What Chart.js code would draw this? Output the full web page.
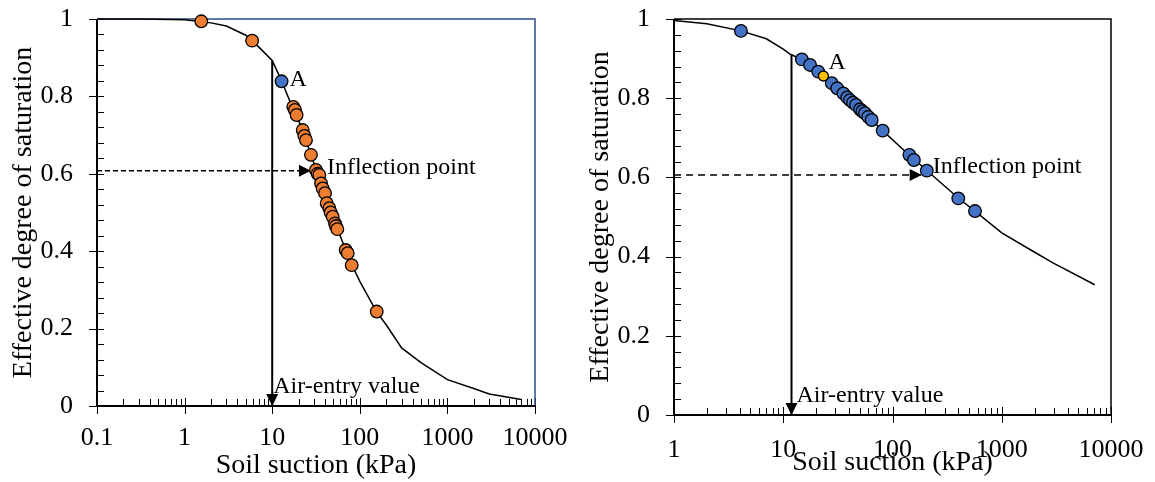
<!DOCTYPE html>
<html>
<head>
<meta charset="utf-8">
<script src="https://cdn.jsdelivr.net/npm/chart.js@4.4.1/dist/chart.umd.min.js"></script>
<style>
  html, body { margin: 0; padding: 0; background: #fff; }
  #wrap { position: relative; width: 1155px; height: 482px; }
  canvas { position: absolute; top: 0; }
  #chartA { left: 0; }
  #chartB { left: 577px; }
</style>
</head>
<body>
<div id="wrap">
  <canvas id="chartA" width="577" height="482"></canvas>
  <canvas id="chartB" width="578" height="482"></canvas>
</div>
<script>
// ---- (a) fitted SWCC and measured points ----
const curveSuctionA = [0.1, 0.3, 1, 2, 3, 5, 7, 10, 12.8, 16, 20, 24, 28, 31.6, 36, 40, 45, 50, 55, 70, 81, 100, 155, 200, 300, 500, 1000, 2000, 3000, 7000];
const curveSatA = [1.0, 1.0, 0.998, 0.990, 0.982, 0.958, 0.928, 0.893, 0.840, 0.786, 0.738, 0.690, 0.648, 0.610, 0.575, 0.548, 0.515, 0.487, 0.460, 0.400, 0.365, 0.322, 0.244, 0.210, 0.150, 0.112, 0.068, 0.045, 0.031, 0.017];
const suctionA = [1.55, 5.9, 17.4, 18.2, 19.0, 22.3, 23.3, 24.3, 27.7, 31.6, 33.0, 34.5, 36.1, 37.7, 40.1, 41.9, 44.9, 46.5, 49.0, 52.1, 53.5, 55.4, 69.0, 72.8, 80.8, 156];
const satA = [0.994, 0.944, 0.773, 0.765, 0.752, 0.713, 0.698, 0.687, 0.649, 0.610, 0.600, 0.597, 0.575, 0.562, 0.550, 0.524, 0.511, 0.500, 0.489, 0.472, 0.465, 0.457, 0.403, 0.395, 0.364, 0.244];
const pointSuctionA = [12.8];
const pointSatA = [0.839];
const airEntryA = [10, 0.893];      // suction, saturation at top of arrow
const inflectionA = [27.7, 0.608];  // arrow tip
const decadesA = [0.1, 1, 10, 100, 1000, 10000];

// ---- (b) fitted SWCC and measured points ----
const curveSuctionB = [1, 2, 4.1, 7, 10, 11.6, 14.8, 20, 30, 50, 80, 140, 205, 400, 560, 1000, 2000, 3000, 7100];
const curveSatB = [0.996, 0.988, 0.970, 0.950, 0.924, 0.911, 0.898, 0.870, 0.830, 0.775, 0.720, 0.658, 0.618, 0.548, 0.516, 0.460, 0.411, 0.383, 0.329];
const suctionB = [4.1, 14.8, 17.6, 20.9, 27.8, 31.2, 35.5, 38.5, 40.8, 43.5, 46.4, 50.4, 53, 56.0, 60, 64.5, 81.3, 142.6, 157, 206, 400, 569];
const satB = [0.970, 0.898, 0.884, 0.867, 0.838, 0.825, 0.812, 0.802, 0.795, 0.789, 0.783, 0.772, 0.767, 0.762, 0.753, 0.745, 0.718, 0.657, 0.644, 0.617, 0.547, 0.515];
const pointSuctionB = [23.3];
const pointSatB = [0.856];
const airEntryB = [11.9, 0.911];
const inflectionB = [185, 0.606];
const decadesB = [1, 10, 100, 1000, 10000];

const yTicks = [0, 0.2, 0.4, 0.6, 0.8, 1];

Chart.defaults.font.family = "'Liberation Serif', 'Times New Roman', serif";
Chart.defaults.font.size = 26;
Chart.defaults.color = '#000';

const toPts = (xs, ys) => xs.map((x, i) => ({ x: x, y: ys[i] }));
const isDecade = v => Math.abs(Math.log10(v) - Math.round(Math.log10(v))) < 1e-6;

// axis lines, frame and tick marks (majors cross the axis, minors point inward)
const axesFrame = {
  id: 'axesFrame',
  beforeDatasetsDraw(chart, args, opts) {
    const { ctx, chartArea: a, scales: { x, y } } = chart;
    ctx.save();
    ctx.strokeStyle = '#000';
    ctx.lineWidth = 1;
    x.ticks.forEach(t => {
      const v = t.value;
      const m = v / Math.pow(10, Math.floor(Math.log10(v) + 1e-9));
      if (Math.abs(m - Math.round(m)) > 1e-6) return;
      const px = Math.round(x.getPixelForValue(v)) + 0.5;
      ctx.beginPath();
      if (isDecade(v)) { ctx.moveTo(px, a.bottom - 8); ctx.lineTo(px, a.bottom + 8); }
      else { ctx.moveTo(px, a.bottom); ctx.lineTo(px, a.bottom - 7); }
      ctx.stroke();
    });
    for (let i = 0; i <= 25; i++) {
      const py = Math.round(y.getPixelForValue(i * 0.04)) + 0.5;
      ctx.beginPath();
      ctx.moveTo(i % 5 === 0 ? a.left - 8 : a.left, py);
      ctx.lineTo(a.left + 7, py);
      ctx.stroke();
    }
    ctx.strokeStyle = opts.frameColor;
    ctx.lineWidth = 1.5;
    ctx.beginPath();
    ctx.moveTo(a.left, a.top);
    ctx.lineTo(a.right, a.top);
    ctx.lineTo(a.right, a.bottom);
    ctx.stroke();
    ctx.strokeStyle = '#000';
    ctx.lineWidth = 2;
    ctx.beginPath();
    ctx.moveTo(a.left, a.top);
    ctx.lineTo(a.left, a.bottom);
    ctx.lineTo(a.right, a.bottom);
    ctx.stroke();
    ctx.restore();
  }
};

// filled arrowhead at the last point of datasets flagged with `arrow`
const arrowHeads = {
  id: 'arrowHeads',
  afterDatasetDraw(chart, args) {
    const ds = chart.data.datasets[args.index];
    if (!ds.arrow) return;
    const pts = args.meta.data;
    const tip = pts[pts.length - 1], prev = pts[pts.length - 2];
    const ang = Math.atan2(tip.y - prev.y, tip.x - prev.x);
    const ctx = chart.ctx;
    ctx.save();
    ctx.translate(tip.x, tip.y);
    ctx.rotate(ang);
    ctx.beginPath();
    ctx.moveTo(0, 0);
    ctx.lineTo(-12, -6);
    ctx.lineTo(-12, 6);
    ctx.closePath();
    ctx.fillStyle = '#000';
    ctx.fill();
    ctx.restore();
  }
};

// text annotations placed at data coordinates plus a pixel offset
const notes = {
  id: 'notes',
  afterDraw(chart, args, opts) {
    const { ctx, chartArea: a, scales: { x, y } } = chart;
    ctx.save();
    ctx.fillStyle = '#000';
    ctx.textBaseline = 'middle';
    opts.items.forEach(n => {
      ctx.font = n.size + "px 'Liberation Serif', serif";
      ctx.textAlign = n.align || 'left';
      const px = n.at ? x.getPixelForValue(n.at[0]) : a.right;
      const py = n.at ? y.getPixelForValue(n.at[1]) : a.top;
      ctx.fillText(n.text, px + n.dx, py + n.dy);
    });
    ctx.restore();
  }
};

// drop the label overflow padding so the plot area sits where layout.padding puts it
const noEdgePadding = s => { s.paddingTop = 0; s.paddingBottom = 0; s.paddingLeft = 0; s.paddingRight = 0; };

function makeChart(id, cfg) {
  const pointStyle = (color, r) => ({
    type: 'scatter', showLine: false, clip: false,
    backgroundColor: color, borderColor: '#000', borderWidth: 1.3,
    pointRadius: r, pointHoverRadius: r
  });
  return new Chart(document.getElementById(id), {
    type: 'scatter',
    data: {
      datasets: [
        Object.assign({ data: toPts(cfg.pointX, cfg.pointY) }, pointStyle(cfg.pointColor, cfg.pointR)),
        Object.assign({ data: toPts(cfg.dataX, cfg.dataY) }, pointStyle(cfg.dataColor, 6.3)),
        {
          data: toPts(cfg.curveX, cfg.curveY), showLine: true, pointRadius: 0,
          borderColor: '#000', borderWidth: 1.5, tension: 0, clip: false
        },
        {
          data: [{ x: cfg.airEntry[0], y: cfg.airEntry[1] }, { x: cfg.airEntry[0], y: 0 }],
          showLine: true, pointRadius: 0, borderColor: '#000', borderWidth: 2, arrow: true, clip: false
        },
        {
          data: [{ x: cfg.xMin, y: cfg.inflection[1] }, { x: cfg.inflection[0], y: cfg.inflection[1] }],
          showLine: true, pointRadius: 0, borderColor: '#000', borderWidth: 1.5,
          borderDash: cfg.dash, arrow: true, clip: false
        }
      ]
    },
    options: {
      responsive: false,
      animation: false,
      events: [],
      devicePixelRatio: 1,
      layout: { padding: { top: 19, right: cfg.padRight, bottom: 0, left: 0 } },
      plugins: {
        legend: { display: false },
        tooltip: { enabled: false },
        axesFrame: { frameColor: cfg.frameColor },
        notes: { items: cfg.notes }
      },
      scales: {
        x: {
          type: 'logarithmic',
          min: cfg.xMin,
          max: 10000,
          grid: { display: false, drawTicks: false },
          border: { display: false },
          ticks: {
            autoSkip: false, maxRotation: 0, padding: cfg.xTickPad,
            callback: v => cfg.decades.some(d => Math.abs(d - v) < d * 1e-6) ? String(Number(v.toPrecision(6))) : ''
          },
          title: { display: true, text: 'Soil suction (kPa)', font: { size: 28 }, padding: { top: 0, bottom: cfg.xTitlePad } },
          afterFit: s => { s.height = 482 - cfg.bottom; noEdgePadding(s); }
        },
        y: {
          min: 0,
          max: 1,
          grid: { display: false, drawTicks: false },
          border: { display: false },
          ticks: {
            stepSize: 0.2, padding: 24,
            callback: v => yTicks.some(t => Math.abs(t - v) < 1e-6) ? String(Number(v.toFixed(2))) : ''
          },
          title: { display: true, text: 'Effective degree of saturation', font: { size: 28 }, padding: { top: 7, bottom: 0 } },
          afterFit: s => { s.width = 97; noEdgePadding(s); }
        }
      }
    },
    plugins: [axesFrame, arrowHeads, notes]
  });
}

makeChart('chartA', {
  curveX: curveSuctionA, curveY: curveSatA,
  dataX: suctionA, dataY: satA, dataColor: '#ED7D31',
  pointX: pointSuctionA, pointY: pointSatA, pointColor: '#4472C4', pointR: 6.3,
  airEntry: airEntryA, inflection: inflectionA, decades: decadesA,
  xMin: 0.1, bottom: 406, padRight: 42, xTickPad: 17, xTitlePad: 0,
  frameColor: '#2E4C87', dash: [5, 3],
  notes: [
    { text: 'A', at: [pointSuctionA[0], pointSatA[0]], dx: 8, dy: -2, size: 24 },
    { text: 'Inflection point', at: inflectionA, dx: 16, dy: -3, size: 24 },
    { text: 'Air-entry value', at: [airEntryA[0], 0], dx: 1, dy: -19, size: 24 },
    { text: '(a)', dx: -5, dy: 13, size: 22, align: 'right' }
  ]
});

makeChart('chartB', {
  curveX: curveSuctionB, curveY: curveSatB,
  dataX: suctionB, dataY: satB, dataColor: '#4472C4',
  pointX: pointSuctionB, pointY: pointSatB, pointColor: '#FFC000', pointR: 5,
  airEntry: airEntryB, inflection: inflectionB, decades: decadesB,
  xMin: 1, bottom: 415, padRight: 44, xTickPad: 20, xTitlePad: 3,
  frameColor: '#000', dash: [7, 5],
  notes: [
    { text: 'A', at: [pointSuctionB[0], pointSatB[0]], dx: 5, dy: -13, size: 24 },
    { text: 'Inflection point', at: inflectionB, dx: 11, dy: -8, size: 24 },
    { text: 'Air-entry value', at: [airEntryB[0], 0], dx: 5, dy: -19, size: 24 },
    { text: '(b)', dx: -6, dy: 13, size: 22, align: 'right' }
  ]
});
</script>
</body>
</html>
